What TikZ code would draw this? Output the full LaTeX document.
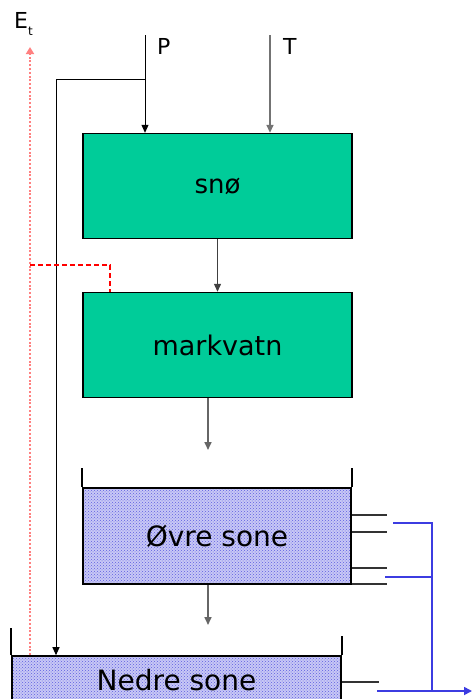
\documentclass[tikz,border=0pt]{standalone}
\usepackage{fontspec}
\setmainfont{DejaVu Sans}
\usetikzlibrary{arrows.meta,patterns}

\definecolor{boxgreen}{RGB}{0,204,153}
\definecolor{waterfill}{RGB}{200,200,245}
\definecolor{waterdot}{RGB}{95,95,225}
\definecolor{runoff}{RGB}{60,60,225}

\tikzset{
  flow/.style={draw=black!75, line width=1.2pt, -{Triangle[width=7pt,length=8pt]}},
  store/.style={draw=black, line width=1.4pt, fill=boxgreen, minimum width=269pt,
                minimum height=105pt, inner sep=0pt, font=\fontsize{26}{30}\selectfont},
  water/.style={draw=black, line width=1.6pt, inner sep=0pt,
                preaction={fill=waterfill}, pattern=crosshatch dots, pattern color=waterdot,
                font=\fontsize{28}{30}\selectfont},
  wall/.style={draw=black, line width=1.6pt},
  outlet/.style={draw=black!80, line width=1.6pt},
  runoffline/.style={draw=runoff, line width=1.7pt},
  evap/.style={draw=red!50, line width=2.4pt, dash pattern=on 2pt off 1.8pt,
               -{Triangle[width=8pt,length=7pt]}},
  evapctrl/.style={draw=red, line width=1.4pt, dash pattern=on 5pt off 3pt},
  label/.style={font=\fontsize{22}{24}\selectfont, inner sep=0pt}
}

\begin{document}
\begin{tikzpicture}[x=1pt,y=-1pt]
  \useasboundingbox (0,0) rectangle (472,699);

  % reservoirs
  \node[store] (sno)  at (217.5,186) {snø};
  \node[store, font=\fontsize{27}{30}\selectfont] (mark) at (217.5,345) {markvatn};
  \node[water, minimum width=268pt, minimum height=96pt] (ovre) at (217,536) {Øvre sone};
  \node[water, minimum width=329pt, minimum height=48pt] (nedre) at (176.5,680) {Nedre sone};

  % tank walls above the water level
  \draw[wall] (ovre.north west) -- ++(0,-19);
  \draw[wall] (ovre.north east) -- ++(0,-19);
  \draw[wall] (nedre.north west) -- ++(0,-27);
  \draw[wall] (nedre.north east) -- ++(0,-19);

  % inputs P and T
  \coordinate (ptop) at (145,35);
  \coordinate (ttop) at (270,35);
  \coordinate (pbranch) at (145,79);
  \draw[flow, draw=black, line width=1pt] (ptop) -- (ptop |- sno.north);
  \draw[flow, line width=1.6pt, draw=black!55] (ttop) -- (ttop |- sno.north);
  \node[label, anchor=north west] (plabel) at (157,38) {P};
  \node[label, anchor=north west] (tlabel) at (283,38) {T};

  % precipitation bypass to the lower zone
  \draw[flow, draw=black, line width=1pt] (pbranch) -| (nedre.north -| 56,0);

  % vertical transfers
  \draw[flow] (sno.south) -- (mark.north);
  \coordinate (markout) at (208,450);
  \draw[flow, draw=black!60, line width=1.6pt] (mark.south -| markout) -- (markout);
  \coordinate (perc) at (208,625);
  \draw[flow, draw=black!60, line width=1.6pt] (ovre.south -| perc) -- (perc);

  % outlets of the upper zone
  \foreach \y/\n in {515/a,532/b,568/c,584/d}{
    \coordinate (o\n) at (387,\y);
    \draw[outlet] (ovre.east |- o\n) -- (o\n);
  }
  \coordinate (nout) at (379,682);
  \draw[outlet] (nedre.east |- nout) -- (nout);

  % runoff collection
  \coordinate (qa) at (393,523);
  \coordinate (qb) at (385,577);
  \coordinate (qsum) at (432,691);
  \coordinate (qstart) at (377,691);
  \coordinate (qend) at (472,691);
  \draw[runoffline] (qa) -| (qsum);
  \draw[runoffline] (qb) -- (qb -| qsum);
  \draw[runoffline, -{Triangle[width=8pt,length=8pt]}] (qstart) -- (qend);

  % evapotranspiration
  \coordinate (ettop) at (30,47);
  \draw[evap] (nedre.north -| ettop) -- (ettop);
  \node[label, anchor=base west] (etlabel) at (14,28) {E\raisebox{-0.6ex}{\fontsize{12}{13}\selectfont t}};
  \coordinate (etctrl) at (30,265);
  \draw[evapctrl] (etctrl) -| (mark.north -| 110,0);
\end{tikzpicture}
\end{document}
